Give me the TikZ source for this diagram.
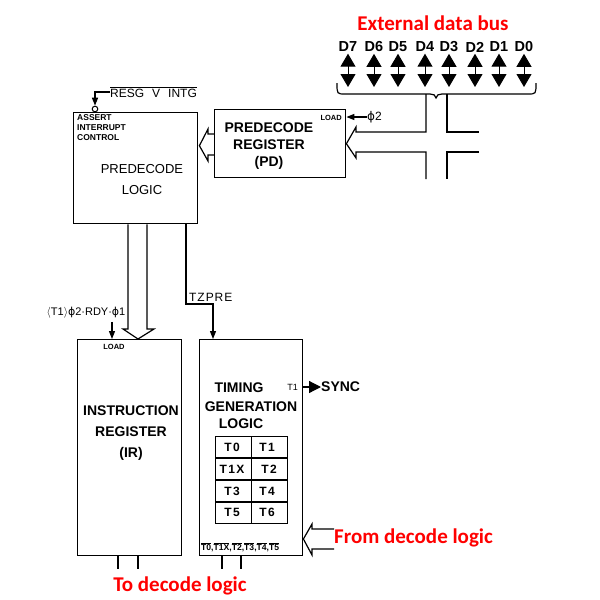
\documentclass[tikz,border=0pt]{standalone}
\usepackage{fontspec}
\setmainfont{Liberation Sans}
\newfontfamily\redfont{Carlito}
\newfontfamily\dvfont{DejaVu Sans}
\usetikzlibrary{arrows.meta,calc}
\newcommand\fz[2]{\fontsize{#1}{#2}\selectfont}
\newcommand\ovl[1]{\mbox{$\overline{\mbox{#1}}$}}
\newcommand\ph{{\dvfont ϕ}}
\begin{document}
\begin{tikzpicture}[x=1pt,y=-1pt,
  every node/.style={inner sep=0pt},
  box/.style={draw,line width=1.4pt,anchor=north west},
  wire/.style={line width=1.2pt},
  tip/.style={wire,-{Triangle[width=6pt,length=8pt]}},
  dbus/.style={line width=0.9pt,{Triangle[width=15pt,length=13pt]}-{Triangle[width=15pt,length=13pt]}},
  redlbl/.style={text=red,font=\redfont\bfseries\fz{21}{24}},
  bigb/.style={font=\bfseries\fz{14}{17},align=center},
  cell/.style={font=\bfseries\fz{12}{14}\addfontfeature{LetterSpace=12}},
  small/.style={font=\bfseries\fz{7.5}{9}}
]
\useasboundingbox (0,0) rectangle (600,600);

% ---------- external data bus ----------
\node[redlbl] (ext) at (433,23) {External data bus};
\foreach \n/\x in {7/348,6/374,5/398,4/425,3/449,2/475,1/499,0/524}{
  \node[font=\bfseries\fz{14.5}{16}] (d\n) at (\x,47) {D\n};
  \coordinate (e\n) at (\x,87);
  \draw[dbus] ([yshift=-1.5pt]d\n.south) -- (e\n);
}
\draw[wire] (337,83) .. controls (337,94) and (337,94) .. (345,94) -- (430,94)
  .. controls (433,94) and (436,95) .. (436,98)
  .. controls (436,95) and (439,94) .. (442,94) -- (528,94)
  .. controls (536,94) and (536,94) .. (536,83);

% ---------- boxes ----------
\node[box,minimum width=131,minimum height=68] (pd) at (214,109) {};
\node[box,minimum width=124,minimum height=111] (logic) at (73,112) {};
\node[box,minimum width=104,minimum height=216] (ir) at (77,339) {};
\node[box,minimum width=103,minimum height=216] (tg) at (199,339) {};
\node[box,line width=1.2pt,minimum width=72,minimum height=87] (tbl) at (215,436) {};

% ---------- texts ----------
\node[bigb] (pdtxt) at (269,146) {PREDECODE\\REGISTER\\(PD)};
\node[small,anchor=east] (pdload) at (342,118) {LOAD};
\node[anchor=west,font=\fz{12}{14}] (phi2) at (367,117) {\ph 2};

\node[font=\fz{13}{21},align=center] (lgtxt) at (142,180) {PREDECODE\\LOGIC};
\node[font=\bfseries\fz{8.5}{10},align=left,anchor=north west] (assert) at (77,114) {ASSERT\\INTERRUPT\\CONTROL};
\node[anchor=west,font=\fz{12}{14}] (resg) at (110,92) {\ovl{RESG\hspace{8pt}V\hspace{8pt}INTG}};
\node[circle,draw,line width=1pt,minimum size=5.6pt] (inv) at (95,109) {};

\node[bigb,font=\bfseries\fz{14}{21}] (irtxt) at (131,433) {INSTRUCTION\\REGISTER\\(IR)};
\node[small] (irload) at (114,347) {LOAD};
\node[font=\fz{11}{13}] (cond) at (86,313) {\ensuremath{\langle}T1\ensuremath{\rangle}\ph 2·RDY·\ph 1};
\node[anchor=west,font=\fz{12}{14}\addfontfeature{LetterSpace=8}] (tzpre) at (189,297) {TZPRE};

\node[font=\bfseries\fz{14}{16}] (tg1) at (239,388) {TIMING};
\node[font=\bfseries\fz{14}{16}] (tg2) at (251,407) {GENERATION};
\node[font=\bfseries\fz{14}{16}] (tg3) at (241,424) {LOGIC};
\node[anchor=east,font=\fz{9}{10}] (t1o) at (298,387) {T1};
\node[anchor=west,font=\bfseries\fz{14}{16}] (sync) at (321,387) {SYNC};

\node[cell] (c00) at (232,447) {T0};
\node[cell] (c01) at (267,447) {T1};
\node[cell] (c10) at (232,469) {T1X};
\node[cell] (c11) at (269,469) {T2};
\node[cell] (c20) at (232,491) {T3};
\node[cell] (c21) at (267,491) {T4};
\node[cell] (c30) at (232,512) {T5};
\node[cell] (c31) at (267,512) {T6};
\draw[line width=1.2pt] (tbl.north) -- (tbl.south);
\foreach \yy in {458,480,502}{
  \draw[line width=1.2pt] (tbl.west |- 0,\yy) -- (tbl.east |- 0,\yy);
}
\node[anchor=west,font=\bfseries\fz{8.6}{10}] (tlist) at (201,547) {\ovl{T0},\ovl{T1X},\ovl{T2},\ovl{T3},\ovl{T4},\ovl{T5}};

\node[redlbl] (todec) at (180,586) {To decode logic};
\node[redlbl,anchor=west] (fromdec) at (334,538) {From decode logic};

% ---------- connectors ----------
% bus to PD
\draw[wire,line join=miter] (426,94) -- (426,132) -- (356,132) -- (356,127) -- (pd.east)
  -- (356,158) -- (356,152) -- (426,152) -- (426,179);
\draw[wire] (447,94) -- (447,132) -- (479,132);
\draw[wire] (479,152) -- (447,152) -- (447,179);
% phi2 load
\draw[tip] (phi2.west) -- (pd.east |- phi2.west);
% PD to predecode logic
\draw[wire] (pd.west |- 0,134) -- (208,134) -- (208,129) -- ($(logic.east |- pd.west)+(1,2)$)
  -- (208,161) -- (208,155) -- (pd.west |- 0,155);
% RESG V INTG
\draw[tip] (resg.west) -| (inv.north);
% predecode logic to IR (wide)
\draw[wire] (128,0 |- logic.south) -- (128,329) -- (123,329) -- (138,0 |- ir.north)
  -- (154,329) -- (147,329) -- (147,0 |- logic.south);
% load IR
\draw[tip] (112,0 |- cond.south) ++(0,3) -- (112,0 |- ir.north);
% TZPRE
\draw[tip] (186,0 |- logic.south) -- (186,304) -| (213,0 |- tg.north);
% SYNC
\draw[wire,-{Triangle[width=12pt,length=12pt]}] (tg.east |- sync.west) -- (sync.west);
% from decode logic
\draw[wire] (fromdec.west |- 0,529) -- (312,529) -- (312,524) -- (tg.east |- 0,539)
  -- (312,555) -- (312,549) -- (fromdec.west |- 0,549);
% outputs to decode logic
\coordinate (o1) at (118,569);
\coordinate (o2) at (138,569);
\coordinate (o3) at (222,569);
\coordinate (o4) at (241,569);
\draw[wire] (o1 |- ir.south) -- (o1);
\draw[wire] (o2 |- ir.south) -- (o2);
\draw[wire] (o3 |- tg.south) -- (o3);
\draw[wire] (o4 |- tg.south) -- (o4);
\end{tikzpicture}
\end{document}
